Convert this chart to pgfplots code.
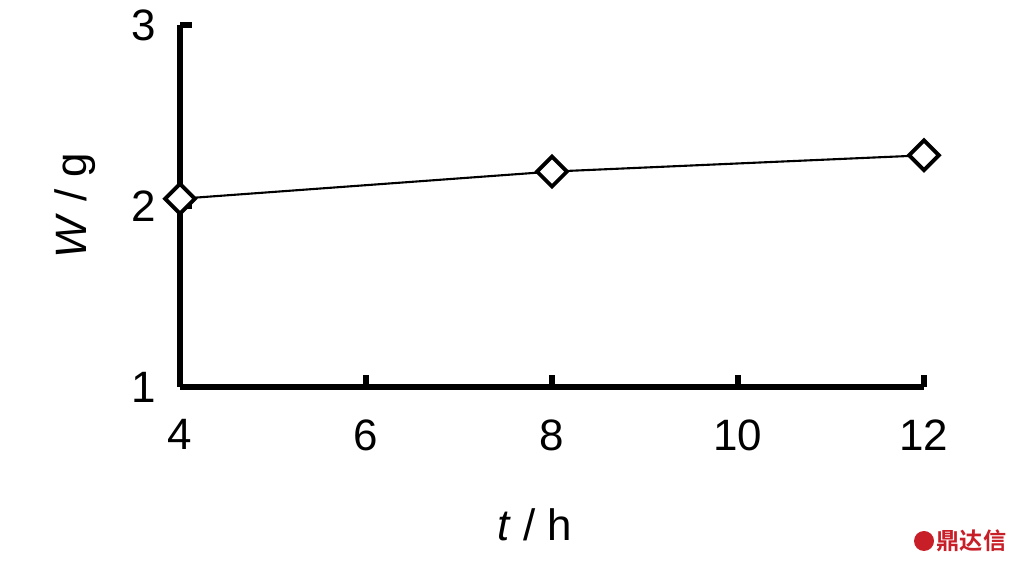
\documentclass[border=0pt]{standalone}
\usepackage{fontspec}
\setmainfont{Liberation Sans}
\newfontfamily\cjk{Noto Sans CJK SC}[BoldFont={* Bold}]
\usepackage{pgfplots}
\pgfplotsset{compat=1.18}
\definecolor{wmred}{RGB}{200,30,40}
\begin{document}
\begin{tikzpicture}
\path[use as bounding box] (0,0) rectangle (101.4mm,56.4mm);
\begin{axis}[
    at={(18mm,17.7mm)}, anchor=south west,
    scale only axis,
    width=74.4mm, height=36.2mm,
    xmin=4, xmax=12, ymin=1, ymax=3,
    axis x line=bottom, axis y line=left,
    axis line style={-, line width=1.8pt},
    xtick={4,6,8,10,12}, ytick={1,2,3},
    tick align=inside,
    major tick length=1.2mm,
    every tick/.style={line width=1.8pt, black},
    /pgf/number format/assume math mode=true,
    tick label style={font=\fontsize{12.5}{14}\selectfont},
    xticklabel style={yshift=-2mm},
    yticklabel style={xshift=-1.2mm},
    xlabel={\textit{t} / h},
    ylabel={\textit{W} / g},
    label style={font=\fontsize{12.5}{14}\selectfont},
    xlabel style={at={(axis description cs:0.477,-0.381)}, anchor=center},
    ylabel style={at={(axis description cs:-0.141,0.50)}, anchor=center, rotate=0},
    clip=false,
]
\addplot[black, line width=0.6pt, mark=square*, mark size=3pt,
    mark options={rotate=45, fill=white, line width=1.1pt}]
    coordinates {(4,2.04) (8,2.19) (12,2.28)};
\end{axis}
\fill[wmred] (92.4mm,2.3mm) circle (1.0mm);
\node[wmred, anchor=west, inner sep=0pt, font=\cjk\bfseries\fontsize{6.6}{8}\selectfont] at (93.6mm,2.3mm) {鼎达信};
\end{tikzpicture}
\end{document}
